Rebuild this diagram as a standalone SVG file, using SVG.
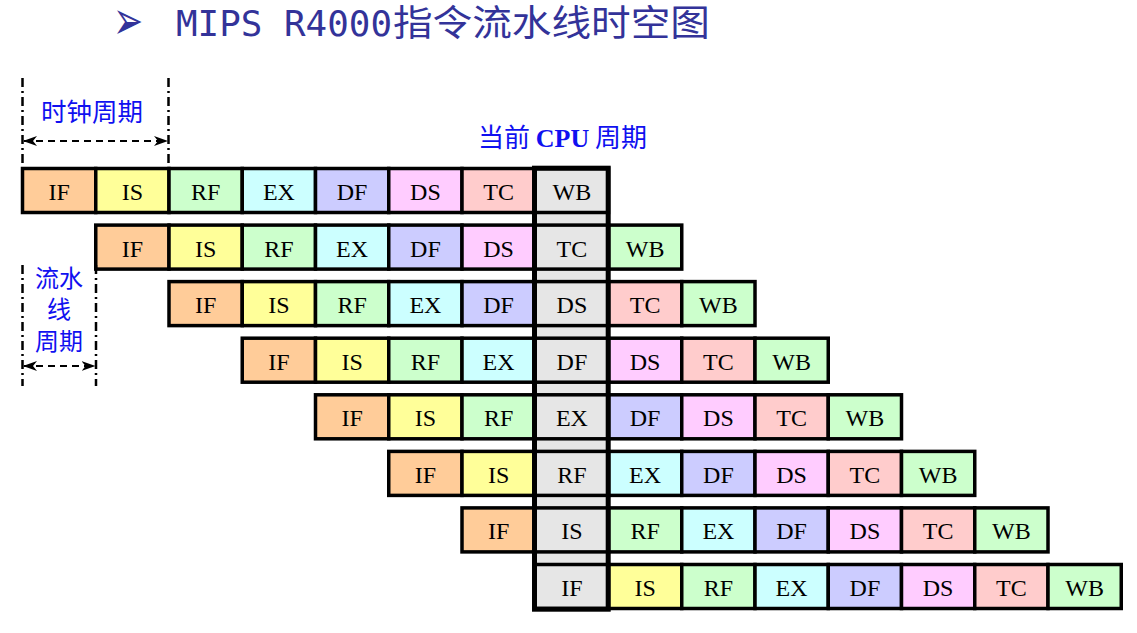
<svg xmlns="http://www.w3.org/2000/svg" width="1137" height="633" viewBox="0 0 1137 633">
<defs>
<style>
.c{stroke:#000;stroke-width:3.5}
.IF{fill:#ffcc99}.IS{fill:#ffff99}.RF{fill:#ccffcc}.EX{fill:#ccffff}.DF{fill:#ccccff}.DS{fill:#ffccff}.TC{fill:#ffcccc}.WB{fill:#ccffcc}.cur{fill:#e6e6e6}
.t{font-family:"Liberation Serif","Times New Roman",serif;font-size:24px;fill:#000;text-anchor:middle}
.ann{font-family:"Noto Sans CJK SC",sans-serif;fill:#1010f0}
.dd{stroke:#000;stroke-width:2.5;stroke-dasharray:9,4,2,4;fill:none}
.dash{stroke:#000;stroke-width:2;stroke-dasharray:7,5;fill:none}
</style>
<marker id="ah" viewBox="0 0 14 10" refX="13" refY="5" markerWidth="14" markerHeight="10" markerUnits="userSpaceOnUse" orient="auto-start-reverse">
<path d="M0,0 L14,5 L0,10 L4,5 z" fill="#000"/>
</marker>
</defs>
<rect width="1137" height="633" fill="#fff"/>
<g id="title">
<text transform="translate(113,39) scale(1,1.5)" font-family="DejaVu Sans,sans-serif" font-size="36" fill="#333399">➢</text>
<text x="176" y="36" font-family="DejaVu Sans Mono,Liberation Mono,monospace" font-size="36" fill="#333399" textLength="216" lengthAdjust="spacingAndGlyphs">MIPS R4000</text>
<text x="393" y="36" font-family="Noto Sans CJK SC,sans-serif" font-size="36" fill="#333399" textLength="317" lengthAdjust="spacingAndGlyphs">指令流水线时空图</text>
</g>
<g id="labels">
<text id="clk" class="ann" x="41" y="121" style="font-size:25.5px">时钟周期</text>
<text id="pipe" class="ann" text-anchor="middle" style="font-size:24px"><tspan x="59" y="287">流水</tspan><tspan x="59" y="318">线</tspan><tspan x="59" y="350">周期</tspan></text>
<text id="cpu" class="ann" x="478" y="147" style="font-size:26px">当前 <tspan font-family="Liberation Serif,serif" font-weight="bold">CPU</tspan> 周期</text>
</g>
<rect id="curcol-bg" x="534.5" y="168.2" width="73.7" height="441" fill="#e6e6e6"/>
<g id="row1">
<g id="r1-IF"><rect class="c IF" x="22.5" y="168.5" width="73.25" height="44"/><text class="t" x="59.1" y="200">IF</text></g>
<g id="r1-IS"><rect class="c IS" x="95.75" y="168.5" width="73.25" height="44"/><text class="t" x="132.4" y="200">IS</text></g>
<g id="r1-RF"><rect class="c RF" x="169" y="168.5" width="73.25" height="44"/><text class="t" x="205.6" y="200">RF</text></g>
<g id="r1-EX"><rect class="c EX" x="242.25" y="168.5" width="73.25" height="44"/><text class="t" x="278.9" y="200">EX</text></g>
<g id="r1-DF"><rect class="c DF" x="315.5" y="168.5" width="73.25" height="44"/><text class="t" x="352.1" y="200">DF</text></g>
<g id="r1-DS"><rect class="c DS" x="388.75" y="168.5" width="73.25" height="44"/><text class="t" x="425.4" y="200">DS</text></g>
<g id="r1-TC"><rect class="c TC" x="462" y="168.5" width="73.25" height="44"/><text class="t" x="498.6" y="200">TC</text></g>
<g id="r1-WB"><rect class="c cur" x="535.25" y="168.5" width="73.25" height="44"/><text class="t" x="571.9" y="200">WB</text></g>
</g>
<g id="row2">
<g id="r2-IF"><rect class="c IF" x="95.75" y="225.1" width="73.25" height="44"/><text class="t" x="132.4" y="256.6">IF</text></g>
<g id="r2-IS"><rect class="c IS" x="169" y="225.1" width="73.25" height="44"/><text class="t" x="205.6" y="256.6">IS</text></g>
<g id="r2-RF"><rect class="c RF" x="242.25" y="225.1" width="73.25" height="44"/><text class="t" x="278.9" y="256.6">RF</text></g>
<g id="r2-EX"><rect class="c EX" x="315.5" y="225.1" width="73.25" height="44"/><text class="t" x="352.1" y="256.6">EX</text></g>
<g id="r2-DF"><rect class="c DF" x="388.75" y="225.1" width="73.25" height="44"/><text class="t" x="425.4" y="256.6">DF</text></g>
<g id="r2-DS"><rect class="c DS" x="462" y="225.1" width="73.25" height="44"/><text class="t" x="498.6" y="256.6">DS</text></g>
<g id="r2-TC"><rect class="c cur" x="535.25" y="225.1" width="73.25" height="44"/><text class="t" x="571.9" y="256.6">TC</text></g>
<g id="r2-WB"><rect class="c WB" x="608.5" y="225.1" width="73.25" height="44"/><text class="t" x="645.1" y="256.6">WB</text></g>
</g>
<g id="row3">
<g id="r3-IF"><rect class="c IF" x="169" y="281.6" width="73.25" height="44"/><text class="t" x="205.6" y="313.1">IF</text></g>
<g id="r3-IS"><rect class="c IS" x="242.25" y="281.6" width="73.25" height="44"/><text class="t" x="278.9" y="313.1">IS</text></g>
<g id="r3-RF"><rect class="c RF" x="315.5" y="281.6" width="73.25" height="44"/><text class="t" x="352.1" y="313.1">RF</text></g>
<g id="r3-EX"><rect class="c EX" x="388.75" y="281.6" width="73.25" height="44"/><text class="t" x="425.4" y="313.1">EX</text></g>
<g id="r3-DF"><rect class="c DF" x="462" y="281.6" width="73.25" height="44"/><text class="t" x="498.6" y="313.1">DF</text></g>
<g id="r3-DS"><rect class="c cur" x="535.25" y="281.6" width="73.25" height="44"/><text class="t" x="571.9" y="313.1">DS</text></g>
<g id="r3-TC"><rect class="c TC" x="608.5" y="281.6" width="73.25" height="44"/><text class="t" x="645.1" y="313.1">TC</text></g>
<g id="r3-WB"><rect class="c WB" x="681.75" y="281.6" width="73.25" height="44"/><text class="t" x="718.4" y="313.1">WB</text></g>
</g>
<g id="row4">
<g id="r4-IF"><rect class="c IF" x="242.25" y="338.2" width="73.25" height="44"/><text class="t" x="278.9" y="369.7">IF</text></g>
<g id="r4-IS"><rect class="c IS" x="315.5" y="338.2" width="73.25" height="44"/><text class="t" x="352.1" y="369.7">IS</text></g>
<g id="r4-RF"><rect class="c RF" x="388.75" y="338.2" width="73.25" height="44"/><text class="t" x="425.4" y="369.7">RF</text></g>
<g id="r4-EX"><rect class="c EX" x="462" y="338.2" width="73.25" height="44"/><text class="t" x="498.6" y="369.7">EX</text></g>
<g id="r4-DF"><rect class="c cur" x="535.25" y="338.2" width="73.25" height="44"/><text class="t" x="571.9" y="369.7">DF</text></g>
<g id="r4-DS"><rect class="c DS" x="608.5" y="338.2" width="73.25" height="44"/><text class="t" x="645.1" y="369.7">DS</text></g>
<g id="r4-TC"><rect class="c TC" x="681.75" y="338.2" width="73.25" height="44"/><text class="t" x="718.4" y="369.7">TC</text></g>
<g id="r4-WB"><rect class="c WB" x="755" y="338.2" width="73.25" height="44"/><text class="t" x="791.6" y="369.7">WB</text></g>
</g>
<g id="row5">
<g id="r5-IF"><rect class="c IF" x="315.5" y="394.8" width="73.25" height="44"/><text class="t" x="352.1" y="426.3">IF</text></g>
<g id="r5-IS"><rect class="c IS" x="388.75" y="394.8" width="73.25" height="44"/><text class="t" x="425.4" y="426.3">IS</text></g>
<g id="r5-RF"><rect class="c RF" x="462" y="394.8" width="73.25" height="44"/><text class="t" x="498.6" y="426.3">RF</text></g>
<g id="r5-EX"><rect class="c cur" x="535.25" y="394.8" width="73.25" height="44"/><text class="t" x="571.9" y="426.3">EX</text></g>
<g id="r5-DF"><rect class="c DF" x="608.5" y="394.8" width="73.25" height="44"/><text class="t" x="645.1" y="426.3">DF</text></g>
<g id="r5-DS"><rect class="c DS" x="681.75" y="394.8" width="73.25" height="44"/><text class="t" x="718.4" y="426.3">DS</text></g>
<g id="r5-TC"><rect class="c TC" x="755" y="394.8" width="73.25" height="44"/><text class="t" x="791.6" y="426.3">TC</text></g>
<g id="r5-WB"><rect class="c WB" x="828.25" y="394.8" width="73.25" height="44"/><text class="t" x="864.9" y="426.3">WB</text></g>
</g>
<g id="row6">
<g id="r6-IF"><rect class="c IF" x="388.75" y="451.4" width="73.25" height="44"/><text class="t" x="425.4" y="482.9">IF</text></g>
<g id="r6-IS"><rect class="c IS" x="462" y="451.4" width="73.25" height="44"/><text class="t" x="498.6" y="482.9">IS</text></g>
<g id="r6-RF"><rect class="c cur" x="535.25" y="451.4" width="73.25" height="44"/><text class="t" x="571.9" y="482.9">RF</text></g>
<g id="r6-EX"><rect class="c EX" x="608.5" y="451.4" width="73.25" height="44"/><text class="t" x="645.1" y="482.9">EX</text></g>
<g id="r6-DF"><rect class="c DF" x="681.75" y="451.4" width="73.25" height="44"/><text class="t" x="718.4" y="482.9">DF</text></g>
<g id="r6-DS"><rect class="c DS" x="755" y="451.4" width="73.25" height="44"/><text class="t" x="791.6" y="482.9">DS</text></g>
<g id="r6-TC"><rect class="c TC" x="828.25" y="451.4" width="73.25" height="44"/><text class="t" x="864.9" y="482.9">TC</text></g>
<g id="r6-WB"><rect class="c WB" x="901.5" y="451.4" width="73.25" height="44"/><text class="t" x="938.1" y="482.9">WB</text></g>
</g>
<g id="row7">
<g id="r7-IF"><rect class="c IF" x="462" y="507.9" width="73.25" height="44"/><text class="t" x="498.6" y="539.4">IF</text></g>
<g id="r7-IS"><rect class="c cur" x="535.25" y="507.9" width="73.25" height="44"/><text class="t" x="571.9" y="539.4">IS</text></g>
<g id="r7-RF"><rect class="c RF" x="608.5" y="507.9" width="73.25" height="44"/><text class="t" x="645.1" y="539.4">RF</text></g>
<g id="r7-EX"><rect class="c EX" x="681.75" y="507.9" width="73.25" height="44"/><text class="t" x="718.4" y="539.4">EX</text></g>
<g id="r7-DF"><rect class="c DF" x="755" y="507.9" width="73.25" height="44"/><text class="t" x="791.6" y="539.4">DF</text></g>
<g id="r7-DS"><rect class="c DS" x="828.25" y="507.9" width="73.25" height="44"/><text class="t" x="864.9" y="539.4">DS</text></g>
<g id="r7-TC"><rect class="c TC" x="901.5" y="507.9" width="73.25" height="44"/><text class="t" x="938.1" y="539.4">TC</text></g>
<g id="r7-WB"><rect class="c WB" x="974.75" y="507.9" width="73.25" height="44"/><text class="t" x="1011.4" y="539.4">WB</text></g>
</g>
<g id="row8">
<g id="r8-IF"><rect class="c cur" x="535.25" y="564.5" width="73.25" height="44"/><text class="t" x="571.9" y="596">IF</text></g>
<g id="r8-IS"><rect class="c IS" x="608.5" y="564.5" width="73.25" height="44"/><text class="t" x="645.1" y="596">IS</text></g>
<g id="r8-RF"><rect class="c RF" x="681.75" y="564.5" width="73.25" height="44"/><text class="t" x="718.4" y="596">RF</text></g>
<g id="r8-EX"><rect class="c EX" x="755" y="564.5" width="73.25" height="44"/><text class="t" x="791.6" y="596">EX</text></g>
<g id="r8-DF"><rect class="c DF" x="828.25" y="564.5" width="73.25" height="44"/><text class="t" x="864.9" y="596">DF</text></g>
<g id="r8-DS"><rect class="c DS" x="901.5" y="564.5" width="73.25" height="44"/><text class="t" x="938.1" y="596">DS</text></g>
<g id="r8-TC"><rect class="c TC" x="974.75" y="564.5" width="73.25" height="44"/><text class="t" x="1011.4" y="596">TC</text></g>
<g id="r8-WB"><rect class="c WB" x="1048" y="564.5" width="73.25" height="44"/><text class="t" x="1084.6" y="596">WB</text></g>
</g>
<rect id="curcol" x="534.5" y="168.2" width="73.7" height="441" fill="none" stroke="#000" stroke-width="5"/>
<g id="connectors">
<line class="dd" x1="22.5" y1="78" x2="22.5" y2="166"/>
<line class="dd" x1="168.5" y1="78" x2="168.5" y2="166"/>
<line class="dash" x1="24" y1="141" x2="167" y2="141" marker-start="url(#ah)" marker-end="url(#ah)"/>
<line class="dd" x1="22.5" y1="265" x2="22.5" y2="386"/>
<line class="dd" x1="96" y1="265" x2="96" y2="386"/>
<line class="dash" x1="24" y1="366" x2="94.5" y2="366" marker-start="url(#ah)" marker-end="url(#ah)"/>
</g>
</svg>
